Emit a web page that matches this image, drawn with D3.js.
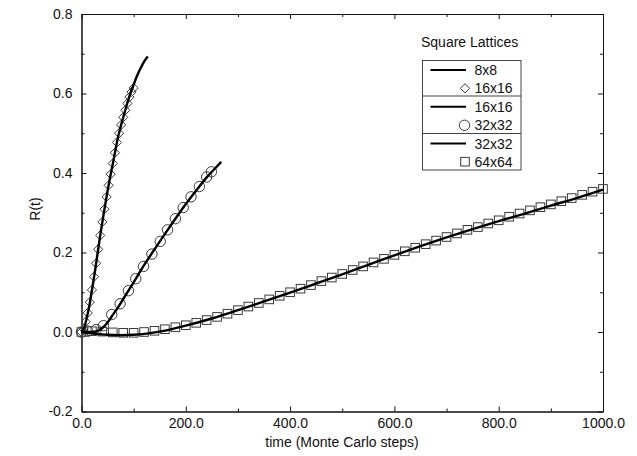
<!DOCTYPE html>
<html>
<head>
<meta charset="utf-8">
<script src="https://cdn.jsdelivr.net/npm/d3@7"></script>
<style>
  body { margin: 0; background: #fff; }
  svg text { font-family: "Liberation Sans", Arial, sans-serif; fill: #111; }
</style>
</head>
<body>
<svg id="chart"></svg>
<script>
/*
  R(t) vs Monte Carlo time, square lattices
*/

var W = 637, H = 456;

// 8x8 line
var line8T = [0,5,10,15,20,25,30,35,40,45,50,55,60,65,70,75,80,85,90,95,100,105,110,115,120,127];
var line8R = [0,0.010,0.035,0.066,0.105,0.146,0.190,0.235,0.277,0.317,0.355,0.390,0.423,0.457,0.490,0.516,0.540,0.563,0.585,0.605,0.622,0.640,0.655,0.668,0.680,0.693];

// 16x16 diamonds
var diaT = [0,4,8,12,16,20,24,28,32,36,40,44,48,52,56,60,64,68,72,76,80,84,88,92,96,100];
var diaR = [0,0.008,0.026,0.048,0.075,0.106,0.139,0.173,0.208,0.243,0.277,0.309,0.340,0.369,0.397,0.424,0.451,0.477,0.500,0.521,0.540,0.558,0.575,0.591,0.604,0.614];

// 16x16 line
var line16T = [0,20,30,40,50,60,70,80,100,120,140,160,180,200,220,240,255,268];
var line16R = [0,0,0.002,0.010,0.024,0.043,0.062,0.083,0.125,0.168,0.208,0.247,0.285,0.322,0.356,0.389,0.410,0.428];

// 32x32 circles
var cirT = [0,12,28,42,58,74,90,104,119,135,151,165,180,195,210,226,240,249];
var cirR = [0,0.002,0.006,0.016,0.044,0.071,0.104,0.134,0.165,0.196,0.228,0.257,0.285,0.313,0.340,0.366,0.390,0.403];

// 32x32 line
var line32T = [0,25,50,75,100,125,150,175,200,250,300,350,400,450,500,550,600,650,700,750,800,850,900,950,1000];
var line32R = [0,-0.004,-0.007,-0.008,-0.007,-0.004,0.001,0.008,0.016,0.034,0.055,0.077,0.099,0.122,0.145,0.169,0.193,0.216,0.238,0.259,0.279,0.298,0.318,0.337,0.358];

// 64x64 squares
var sqT = [0,20,40,60,80,100,120,140,160,180,200,220,240,260,280,300,320,340,360,380,400,420,440,460,480,500,
           520,540,560,580,600,620,640,660,680,700,720,740,760,780,800,820,840,860,880,900,920,940,960,980,1000];
var sqR = [0,0.002,0.001,-0.001,-0.002,-0.002,0,0.003,0.007,0.012,0.017,0.023,0.030,0.038,0.046,0.055,0.064,0.073,0.082,0.091,0.100,
           0.109,0.118,0.128,0.137,0.146,0.156,0.165,0.175,0.184,0.194,0.203,0.212,0.221,0.230,0.239,0.248,0.257,0.264,0.273,
           0.281,0.290,0.298,0.306,0.314,0.321,0.329,0.337,0.345,0.353,0.360];

// ticks
var xTicks = [0,200,400,600,800,1000];
var xMinor = [100,300,500,700,900];
var yTicks = [-0.2,0,0.2,0.4,0.6,0.8];
var yMinor = [-0.1,0.1,0.3,0.5,0.7];

var legendTitle = "Square Lattices";
var legendLabels = ["8x8","16x16","16x16","32x32","32x32","64x64"];
var legendKinds = ["line","diamond","line","circle","line","square"];

function zip(a,b){ return a.map(function(v,i){ return {t:v, r:b[i]}; }); }

var svg = d3.select("#chart").attr("width", W).attr("height", H);
svg.append("rect").attr("width", W).attr("height", H).attr("fill", "#fff");

var sx = d3.scaleLinear().domain([0,1000]).range([81.5,603]);
var sy = d3.scaleLinear().domain([-0.2,0.8]).range([411.5,14]);

var fmt = function(d){ return d.toFixed(1); };

function styleAxis(g){
  g.selectAll("path,line").attr("stroke","#111").attr("stroke-width",1);
  g.selectAll("text").attr("font-size","14px").attr("font-family","Liberation Sans, Arial, sans-serif").attr("fill","#111");
}

// bottom
svg.append("g").attr("transform","translate(0,411.5)")
  .call(d3.axisBottom(sx).tickValues(xTicks).tickFormat(fmt).tickSizeInner(-5).tickSizeOuter(0).tickPadding(7))
  .call(styleAxis);
svg.append("g").attr("transform","translate(0,411.5)")
  .call(d3.axisBottom(sx).tickValues(xMinor).tickFormat("").tickSizeInner(-3).tickSizeOuter(0))
  .call(styleAxis);
// top
svg.append("g").attr("transform","translate(0,14)")
  .call(d3.axisTop(sx).tickValues(xTicks).tickFormat("").tickSizeInner(-5).tickSizeOuter(0))
  .call(styleAxis);
svg.append("g").attr("transform","translate(0,14)")
  .call(d3.axisTop(sx).tickValues(xMinor).tickFormat("").tickSizeInner(-3).tickSizeOuter(0))
  .call(styleAxis);
// left
svg.append("g").attr("transform","translate(81.5,0)")
  .call(d3.axisLeft(sy).tickValues(yTicks).tickFormat(fmt).tickSizeInner(-5).tickSizeOuter(0).tickPadding(9))
  .call(styleAxis);
svg.append("g").attr("transform","translate(81.5,0)")
  .call(d3.axisLeft(sy).tickValues(yMinor).tickFormat("").tickSizeInner(-3).tickSizeOuter(0))
  .call(styleAxis);
// right
svg.append("g").attr("transform","translate(603,0)")
  .call(d3.axisRight(sy).tickValues(yTicks).tickFormat("").tickSizeInner(-5).tickSizeOuter(0))
  .call(styleAxis);
svg.append("g").attr("transform","translate(603,0)")
  .call(d3.axisRight(sy).tickValues(yMinor).tickFormat("").tickSizeInner(-3).tickSizeOuter(0))
  .call(styleAxis);

// axis titles
svg.append("text").attr("x",342).attr("y",447).attr("text-anchor","middle")
  .attr("font-size","14px").text("time (Monte Carlo steps)");
svg.append("text").attr("transform","translate(40,209) rotate(-90)").attr("text-anchor","middle")
  .attr("font-size","14px").text("R(t)");

// marker shapes
var mk = "#3a3a3a";
function diamondPath(s){ return "M0,"+(-s)+"L"+s+",0L0,"+s+"L"+(-s)+",0Z"; }

var plot = svg.append("g");

plot.selectAll("path.dia").data(zip(diaT,diaR)).enter().append("path")
  .attr("class","dia")
  .attr("d", diamondPath(4.6))
  .attr("transform", function(d){ return "translate("+sx(d.t)+","+sy(d.r)+")"; })
  .attr("fill","none").attr("stroke",mk).attr("stroke-width",1);

plot.selectAll("circle.cir").data(zip(cirT,cirR)).enter().append("circle")
  .attr("class","cir")
  .attr("cx", function(d){ return sx(d.t); })
  .attr("cy", function(d){ return sy(d.r); })
  .attr("r", 5.2)
  .attr("fill","none").attr("stroke",mk).attr("stroke-width",1);

plot.selectAll("rect.sq").data(zip(sqT,sqR)).enter().append("rect")
  .attr("class","sq")
  .attr("x", function(d){ return sx(d.t)-4.3; })
  .attr("y", function(d){ return sy(d.r)-4.3; })
  .attr("width", 8.6).attr("height", 8.6)
  .attr("fill","none").attr("stroke",mk).attr("stroke-width",1);

var lineGen = d3.line()
  .x(function(d){ return sx(d.t); })
  .y(function(d){ return sy(d.r); })
  .curve(d3.curveMonotoneX);

[zip(line8T,line8R), zip(line16T,line16R), zip(line32T,line32R)].forEach(function(s){
  plot.append("path").datum(s).attr("d", lineGen)
    .attr("fill","none").attr("stroke","#000").attr("stroke-width",2.4)
    .attr("stroke-linejoin","round");
});

// legend
var leg = svg.append("g");
leg.append("text").attr("x",421).attr("y",47).attr("font-size","14px").text(legendTitle);
leg.append("rect").attr("x",422.5).attr("y",60.5).attr("width",98.5).attr("height",109.5)
  .attr("fill","none").attr("stroke","#444").attr("stroke-width",1);
leg.append("line").attr("x1",422.5).attr("x2",521).attr("y1",96).attr("y2",96).attr("stroke","#444");
leg.append("line").attr("x1",422.5).attr("x2",521).attr("y1",133.5).attr("y2",133.5).attr("stroke","#444");

var rowY = [75,93.3,111.7,130.3,148.5,166.7];
legendLabels.forEach(function(lab,i){
  var y = rowY[i], cy = y-5;
  var k = legendKinds[i];
  if (k==="line") {
    leg.append("line").attr("x1",430.5).attr("x2",466).attr("y1",cy).attr("y2",cy)
      .attr("stroke","#000").attr("stroke-width",2);
  } else if (k==="diamond") {
    leg.append("path").attr("d",diamondPath(4.6)).attr("transform","translate(465,"+cy+")")
      .attr("fill","none").attr("stroke",mk);
  } else if (k==="circle") {
    leg.append("circle").attr("cx",464.5).attr("cy",cy).attr("r",5.2).attr("fill","none").attr("stroke",mk);
  } else {
    leg.append("rect").attr("x",460.7).attr("y",cy-4.3).attr("width",8.6).attr("height",8.6)
      .attr("fill","none").attr("stroke",mk);
  }
  leg.append("text").attr("x",474.5).attr("y",y).attr("font-size","14px").text(lab);
});
</script>
</body>
</html>
